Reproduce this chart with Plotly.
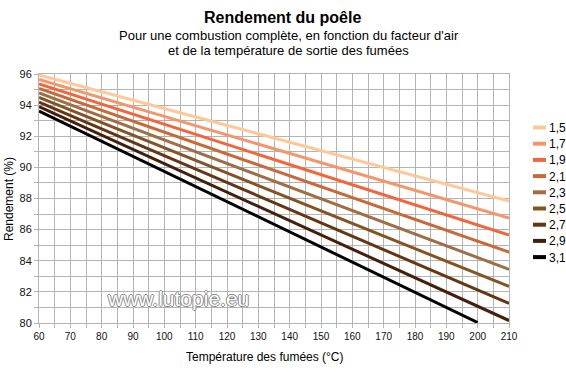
import plotly.graph_objects as go

# ---- data ----
temperatures = [60, 100, 150, 200, 210]
air_factors = ["1,5", "1,7", "1,9", "2,1", "2,3", "2,5", "2,7", "2,9", "3,1"]
eff_15 = [95.94, 93.78, 91.08, 88.38, 87.84]
eff_17 = [95.65, 93.27, 90.31, 87.34, 86.74]
eff_19 = [95.36, 92.77, 89.53, 86.29, 85.65]
eff_21 = [95.07, 92.26, 88.76, 85.25, 84.55]
eff_23 = [94.78, 91.76, 87.98, 84.21, 83.45]
eff_25 = [94.49, 91.25, 87.21, 83.16, 82.35]
eff_27 = [94.20, 90.75, 86.43, 82.12, 81.26]
eff_29 = [93.91, 90.24, 85.66, 81.08, 80.16]
temps_31 = [60, 100, 150, 200]
eff_31 = [93.62, 89.74, 84.89, 80.03]
x_ticks = list(range(60, 211, 10))
y_ticks = list(range(80, 97, 2))

series = [
    (air_factors[0], temperatures, eff_15, "#FFC898"),
    (air_factors[1], temperatures, eff_17, "#F4966A"),
    (air_factors[2], temperatures, eff_19, "#F2663A"),
    (air_factors[3], temperatures, eff_21, "#C8693A"),
    (air_factors[4], temperatures, eff_23, "#A06E44"),
    (air_factors[5], temperatures, eff_25, "#845424"),
    (air_factors[6], temperatures, eff_27, "#663612"),
    (air_factors[7], temperatures, eff_29, "#44200C"),
    (air_factors[8], temps_31, eff_31, "#000000"),
]

FONT = "Liberation Sans, Arial, sans-serif"
L, R, T, B = 39, 509, 74, 323  # plot area in pixels
W, H = 566, 377


def px_x(px):
    return (px - L) / (R - L)


def px_y(py):
    return (B - py) / (B - T)


fig = go.Figure()
for name, xs, ys, col in series:
    fig.add_trace(go.Scatter(x=xs, y=ys, mode="lines", name=name,
                             line=dict(color=col, width=3), showlegend=False,
                             cliponaxis=True, hoverinfo="skip"))

annotations = [
    dict(text="<b>Rendement du poêle</b>", x=px_x(282), y=px_y(17),
         font=dict(size=16, color="#000", family=FONT)),
    dict(text="Pour une combustion complète, en fonction du facteur d'air",
         x=px_x(289), y=px_y(35), font=dict(size=13, color="#000", family=FONT)),
    dict(text="et de la température de sortie des fumées",
         x=px_x(288), y=px_y(51), font=dict(size=13, color="#000", family=FONT)),
    dict(text="Température des fumées (°C)", x=px_x(265), y=px_y(357),
         font=dict(size=12, color="#000", family=FONT)),
    dict(text="Rendement (%)", x=px_x(9), y=px_y(199), textangle=-90,
         font=dict(size=12, color="#000", family=FONT)),
    dict(text="www.lutopie.eu", x=px_x(178), y=px_y(298),
         font=dict(size=21, color="#ffffff", family=FONT,
                   shadow="1px 0px 0px #8a8a8a, -1px 0px 0px #8a8a8a, 0px 1px 0px #8a8a8a, 0px -1px 0px #8a8a8a")),
]

shapes = []
for i, (name, xs, ys, col) in enumerate(series):
    yy = 127.5 + 16.2 * i
    shapes.append(dict(type="line", xref="paper", yref="paper",
                       x0=px_x(533), x1=px_x(546), y0=px_y(yy), y1=px_y(yy),
                       line=dict(color=col, width=4)))
    annotations.append(dict(text=name, x=px_x(547), y=px_y(yy + 0.5),
                            xanchor="left",
                            font=dict(size=12, color="#000", family=FONT)))

for a in annotations:
    a.setdefault("xref", "paper")
    a.setdefault("yref", "paper")
    a.setdefault("showarrow", False)
    a.setdefault("xanchor", "center")
    a.setdefault("yanchor", "middle")

axis_common = dict(showgrid=True, gridcolor="#b4b4b4", gridwidth=1,
                   showline=True, linecolor="#b4b4b4", linewidth=1, mirror=True,
                   ticks="outside", ticklen=4, tickcolor="#b4b4b4",
                   zeroline=False)

fig.update_layout(
    width=W, height=H,
    margin=dict(l=L, r=W - R, t=T, b=H - B),
    paper_bgcolor="white", plot_bgcolor="white",
    showlegend=False,
    annotations=annotations,
    shapes=shapes,
    xaxis=dict(range=[60, 210], tickvals=x_ticks, ticktext=[str(v) for v in x_ticks],
               tickfont=dict(size=10, color="#111", family=FONT),
               minor=dict(dtick=5, tick0=60, showgrid=True, gridcolor="#b4b4b4",
                          ticks="outside", ticklen=4, tickcolor="#b4b4b4"),
               **axis_common),
    yaxis=dict(range=[80, 96], tickvals=y_ticks, ticktext=[str(v) for v in y_ticks],
               tickfont=dict(size=11, color="#111", family=FONT),
               minor=dict(dtick=1, tick0=80, showgrid=True, gridcolor="#b4b4b4",
                          ticks="outside", ticklen=4, tickcolor="#b4b4b4"),
               **axis_common),
)

fig.write_html("out.html", config={"displayModeBar": False},
               post_script="document.body.style.margin='0';document.body.style.padding='0';document.body.style.overflow='hidden';")
